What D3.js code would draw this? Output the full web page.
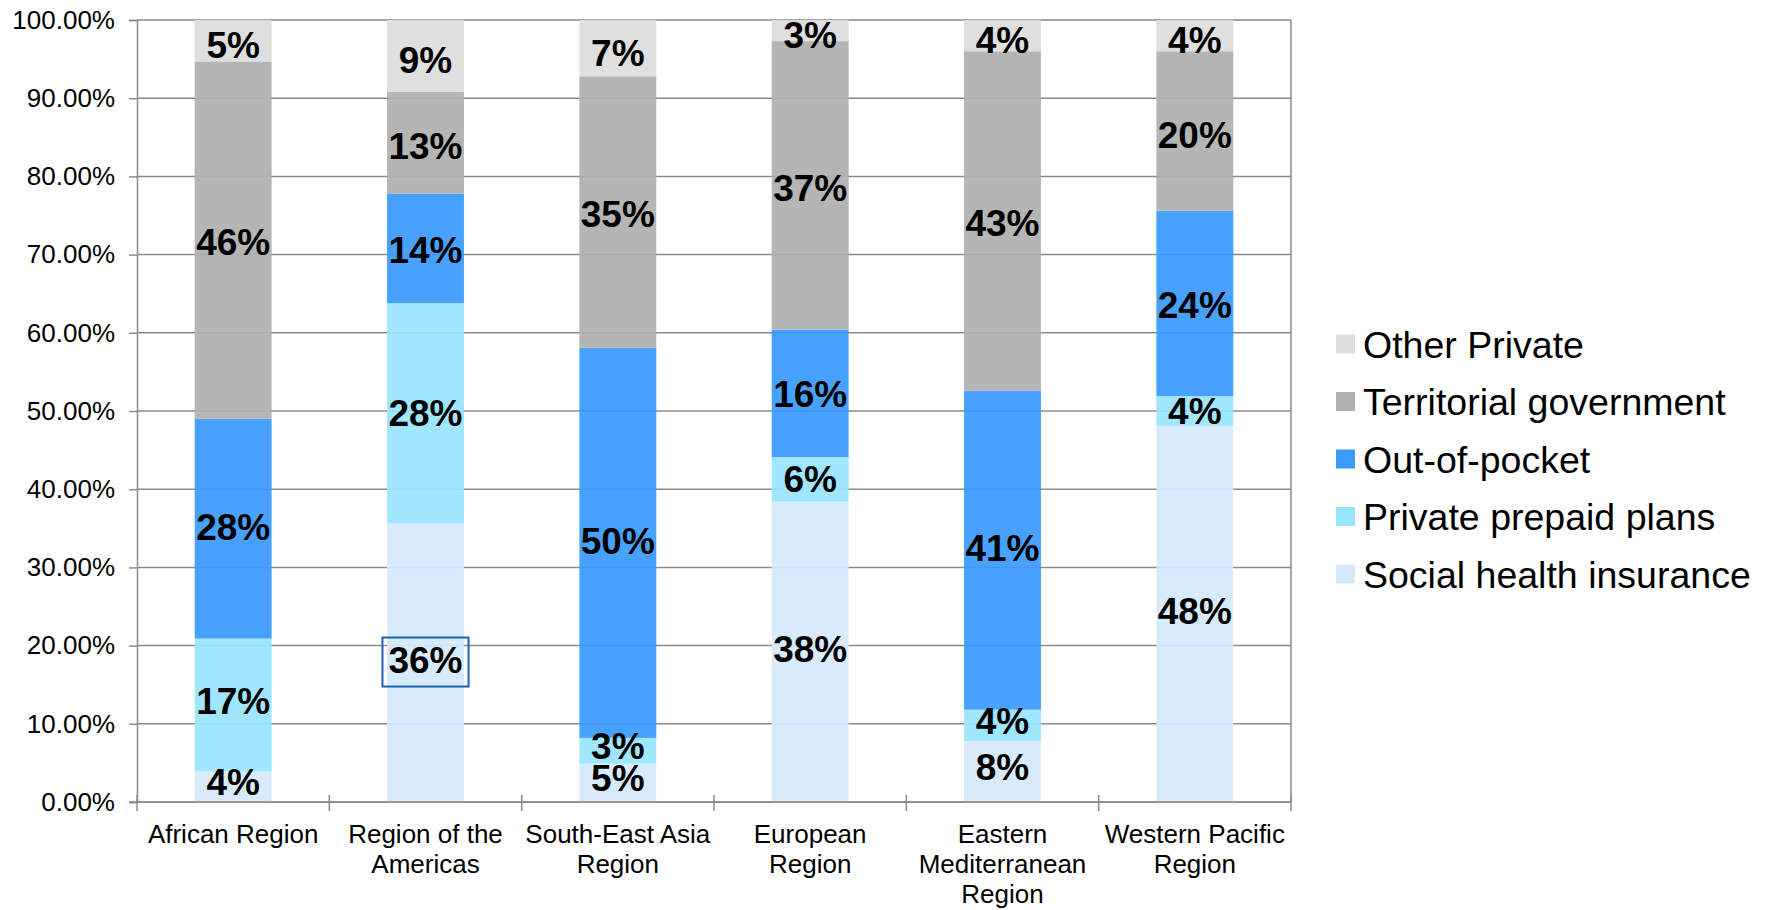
<!DOCTYPE html>
<html>
<head>
<meta charset="utf-8">
<script src="https://cdn.jsdelivr.net/npm/d3@7"></script>
<style>
  body { margin: 0; background: #fff; }
  svg { font-family: "Liberation Sans", Arial, sans-serif; }
</style>
</head>
<body>
<div id="chart"></div>
<script>
// data (share of total, %)
const regions = [
  ['African Region'],
  ['Region of the', 'Americas'],
  ['South-East Asia', 'Region'],
  ['European', 'Region'],
  ['Eastern', 'Mediterranean', 'Region'],
  ['Western Pacific', 'Region']
];
const seriesNames = ['Social health insurance', 'Private prepaid plans', 'Out-of-pocket', 'Territorial government', 'Other Private'];
const socialHealth = [3.9, 35.6, 4.9, 38.4, 7.8, 48.1];
const privatePrepaid = [17.0, 28.2, 3.3, 5.7, 4.0, 3.8];
const outOfPocket = [28.1, 14.0, 49.9, 16.3, 40.8, 23.7];
const territorialGov = [45.7, 13.0, 34.7, 36.9, 43.4, 20.4];
const otherPrivate = [5.3, 9.2, 7.2, 2.7, 4.0, 4.0];
const yTicks = [0, 10, 20, 30, 40, 50, 60, 70, 80, 90, 100];

const colors = ['#d5e9fd', '#99e5fd', '#3a9bfd', '#afafaf', '#dddddd'];

const margin = { top: 20, right: 476, bottom: 108, left: 137 };
const width = 1767 - margin.left - margin.right;
const height = 910 - margin.top - margin.bottom;

const svg = d3.select('#chart').append('svg')
  .attr('width', 1767)
  .attr('height', 910)
  .append('g')
  .attr('transform', `translate(${margin.left}, ${margin.top})`);

const table = regions.map((r, i) => ({
  key: i,
  'Social health insurance': socialHealth[i],
  'Private prepaid plans': privatePrepaid[i],
  'Out-of-pocket': outOfPocket[i],
  'Territorial government': territorialGov[i],
  'Other Private': otherPrivate[i]
}));
const stacked = d3.stack().keys(seriesNames)(table);

const x = d3.scaleBand()
  .domain(regions.map((r, i) => i))
  .range([0, width])
  .padding(0);
const barW = x.bandwidth() * 0.4;

const y = d3.scaleLinear()
  .domain([0, 100])
  .range([height, 0]);

// gridlines
svg.append('g')
  .selectAll('line')
  .data(yTicks)
  .join('line')
  .attr('x1', 0).attr('x2', width)
  .attr('y1', d => y(d)).attr('y2', d => y(d))
  .attr('stroke', '#8a8a8a')
  .attr('stroke-width', 1.5);

// right border
svg.append('line')
  .attr('x1', width).attr('x2', width)
  .attr('y1', 0).attr('y2', height)
  .attr('stroke', '#8a8a8a').attr('stroke-width', 1.5);

// bars
svg.append('g')
  .selectAll('g')
  .data(stacked)
  .join('g')
  .attr('fill', (d, i) => colors[i])
  .selectAll('rect')
  .data(d => d)
  .join('rect')
  .attr('x', d => x(d.data.key) + (x.bandwidth() - barW) / 2)
  .attr('y', d => y(d[1]))
  .attr('width', barW)
  .attr('height', d => y(d[0]) - y(d[1]))
  .attr('fill-opacity', 0.93);

// y axis
const yAxis = svg.append('g')
  .call(d3.axisLeft(y).tickValues(yTicks).tickSize(8).tickFormat(d => d.toFixed(2) + '%'));
yAxis.select('.domain').attr('stroke', '#8a8a8a').attr('stroke-width', 1.5);
yAxis.selectAll('.tick line').attr('stroke', '#8a8a8a').attr('stroke-width', 1.5);
yAxis.selectAll('text')
  .attr('x', -22)
  .style('font-size', '26px')
  .style('font-family', '"Liberation Sans", Arial, sans-serif')
  .attr('fill', '#000');

// x axis line and ticks at category boundaries
svg.append('line')
  .attr('x1', -8).attr('x2', width)
  .attr('y1', height).attr('y2', height)
  .attr('stroke', '#8a8a8a').attr('stroke-width', 1.5);
svg.append('g')
  .selectAll('line')
  .data(d3.range(regions.length + 1))
  .join('line')
  .attr('x1', i => i * x.step()).attr('x2', i => i * x.step())
  .attr('y1', height - 7).attr('y2', height + 9)
  .attr('stroke', '#8a8a8a').attr('stroke-width', 1.5);

// category labels
const catLabels = svg.append('g')
  .selectAll('text')
  .data(regions)
  .join('text')
  .attr('x', (d, i) => x(i) + x.bandwidth() / 2)
  .attr('y', height + 41)
  .attr('text-anchor', 'middle')
  .style('font-size', '26px')
  .attr('fill', '#000');
catLabels.selectAll('tspan')
  .data(d => d)
  .join('tspan')
  .attr('x', function() { return this.parentNode.getAttribute('x'); })
  .attr('dy', (d, i) => i === 0 ? 0 : 30)
  .text(d => d);

// value labels (nudged a little: low ones up, high ones down)
const valLabels = svg.append('g')
  .selectAll('g')
  .data(stacked)
  .join('g')
  .selectAll('text')
  .data(d => d)
  .join('text')
  .attr('x', d => x(d.data.key) + x.bandwidth() / 2)
  .attr('y', d => {
    const c = (d[0] + d[1]) / 2;
    return y(c) - 5 + 0.1 * c;
  })
  .attr('dy', '0.35em')
  .attr('text-anchor', 'middle')
  .style('font-size', '37px')
  .style('font-weight', 'bold')
  .attr('fill', '#000')
  .text(d => Math.round(d[1] - d[0]) + '%');

// selection box round the Americas social health label
valLabels.filter(d => d.data.key === 1 && d[0] === 0).each(function() {
  const b = this.getBBox();
  svg.append('rect')
    .attr('x', b.x - 6)
    .attr('y', b.y - 2)
    .attr('width', b.width + 12)
    .attr('height', b.height + 8)
    .attr('fill', 'none')
    .attr('stroke', '#1f5fae')
    .attr('stroke-width', 2);
});

// legend
const legend = svg.append('g')
  .attr('transform', `translate(${width + 45}, 324)`)
  .selectAll('g')
  .data(seriesNames.slice().reverse())
  .join('g')
  .attr('transform', (d, i) => `translate(0, ${i * 57.5})`);
legend.append('rect')
  .attr('width', 19).attr('height', 19)
  .attr('y', -9.5)
  .attr('fill', (d, i) => colors[colors.length - 1 - i]);
legend.append('text')
  .attr('x', 27)
  .attr('dy', '0.36em')
  .style('font-size', '37.5px')
  .attr('fill', '#000')
  .text(d => d);
</script>
</body>
</html>
